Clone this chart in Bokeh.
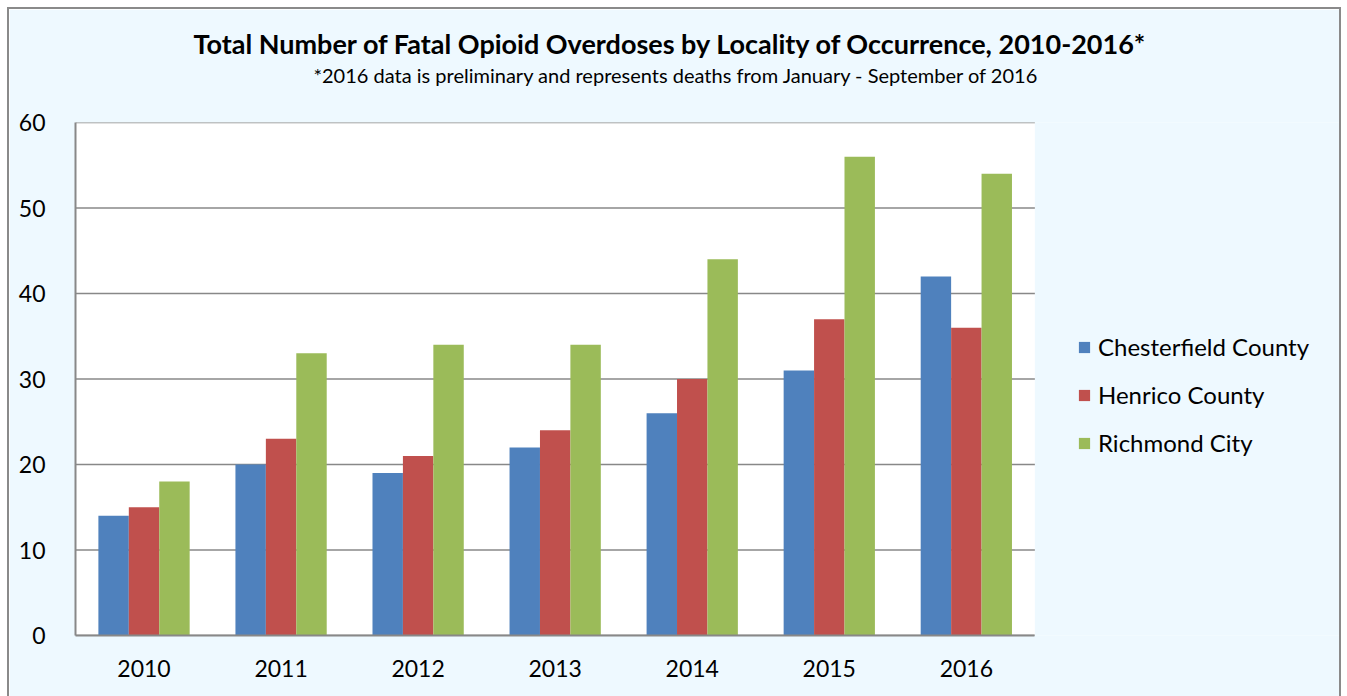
from bokeh.plotting import figure
from bokeh.models import Range1d, FixedTicker, Legend, LegendItem, Title, ColumnDataSource, BoxAnnotation
from bokeh.embed import file_html
from bokeh.resources import INLINE

years = ["2010", "2011", "2012", "2013", "2014", "2015", "2016"]
chesterfield = [14, 20, 19, 22, 26, 31, 42]
henrico = [15, 23, 21, 24, 30, 37, 36]
richmond = [18, 33, 34, 34, 44, 56, 54]
series_names = ["Chesterfield County", "Henrico County", "Richmond City"]
colors = ["#4F81BD", "#C0504D", "#9BBB59"]
title_text = "Total Number of Fatal Opioid Overdoses by Locality of Occurrence, 2010-2016*"
subtitle_text = "*2016 data is preliminary and represents deaths from January - September of 2016"
y_ticks = [0, 10, 20, 30, 40, 50, 60]

FONT = "Lato"
BG = "#EEF9FF"
GRID = "#888888"
n = len(years)
centers = [i + 0.5 for i in range(n)]
src = ColumnDataSource(dict(x=centers, c=chesterfield, h=henrico, r=richmond))

# frame spans to the right edge so the legend (inside the frame) is not clipped;
# categories occupy [0, n], the rest of the frame is background
p = figure(x_range=Range1d(0, 9.252), y_range=Range1d(0, 60),
           width=1334, height=692, output_backend="svg", toolbar_location=None,
           min_border_left=66, min_border_right=0, min_border_top=113, min_border_bottom=66,
           title=None)
p.background_fill_color = BG
p.border_fill_color = BG
p.outline_line_color = None
p.styles = {"border": "2px solid #8A8A8A", "margin-left": "7px", "margin-top": "7px"}

p.add_layout(BoxAnnotation(left=0, right=n, bottom=0, top=60, fill_color="white",
                           fill_alpha=1, line_color=None, level="underlay"))
p.segment(x0=[0] * len(y_ticks), x1=[n] * len(y_ticks), y0=y_ticks, y1=y_ticks,
          line_color=GRID, line_width=1.6)

bw = 0.222
renderers = []
for off, col, color in zip([-bw, 0, bw], ["c", "h", "r"], colors):
    xs = [c + off for c in centers]
    r = p.vbar(x=xs, top=src.data[col], width=bw, fill_color=color, line_color=None)
    renderers.append(r)

p.xgrid.grid_line_color = None
p.ygrid.grid_line_color = None
p.yaxis.ticker = FixedTicker(ticks=y_ticks)
p.xaxis.ticker = FixedTicker(ticks=centers)
p.xaxis.major_label_overrides = {c: y for c, y in zip(centers, years)}
p.xaxis.bounds = (0, n)
for ax in (p.xaxis, p.yaxis):
    ax.axis_line_color = GRID
    ax.axis_line_width = 2
    ax.major_tick_line_color = None
    ax.minor_tick_line_color = None
    ax.major_label_text_font = FONT
    ax.major_label_text_font_size = "23px"
    ax.major_label_text_color = "black"
p.yaxis.major_label_standoff = 24
p.xaxis.major_label_standoff = 18

legend = Legend(items=[LegendItem(label=nm, renderers=[r]) for nm, r in zip(series_names, renderers)],
                location=(1002, 178), padding=0, margin=0, spacing=19,
                glyph_width=14, glyph_height=14, label_height=20, label_standoff=7,
                label_text_font=FONT, label_text_font_size="24px", label_text_color="black",
                border_line_color=None, background_fill_alpha=0)
p.add_layout(legend, "center")

spacer = Title(text=" ", text_font_size="1px", standoff=32)
sub = Title(text=subtitle_text, text_font=FONT, text_font_size="20px", text_font_style="normal",
            text_color="black", align="left", offset=238, standoff=2)
main = Title(text=title_text, text_font=FONT, text_font_size="27px", text_font_style="bold",
             text_color="black", align="left", offset=118, standoff=0)
p.add_layout(spacer, "above")
p.add_layout(sub, "above")
p.add_layout(main, "above")

open("out.html", "w").write(file_html(p, INLINE))
